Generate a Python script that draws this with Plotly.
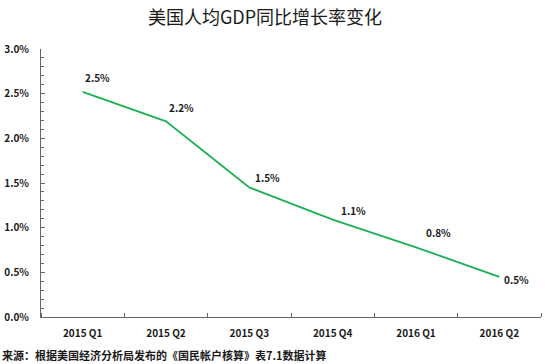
import plotly.graph_objects as go

quarters = ["2015 Q1", "2015 Q2", "2015 Q3", "2015 Q4", "2016 Q1", "2016 Q2"]
growth = [2.52, 2.19, 1.45, 1.09, 0.78, 0.45]
labels = ["2.5%", "2.2%", "1.5%", "1.1%", "0.8%", "0.5%"]
label_dx = [15, 15, 18, 21, 22, 17]
label_dy = [14, 14, 10, 9, 15, -3]

tick_vals = [0, 0.5, 1.0, 1.5, 2.0, 2.5, 3.0]
tick_text = ["0.0%", "0.5%", "1.0%", "1.5%", "2.0%", "2.5%", "3.0%"]

font_fam = "Noto Sans CJK SC, Noto Sans, sans-serif"

fig = go.Figure()
fig.add_trace(go.Scatter(
    x=list(range(len(quarters))), y=growth, mode="lines",
    line=dict(color="#1db052", width=1.8), hoverinfo="skip", showlegend=False,
))

for i, (v, t) in enumerate(zip(growth, labels)):
    fig.add_annotation(x=i, y=v, text="<b>" + t + "</b>", showarrow=False,
                       xshift=label_dx[i], yshift=label_dy[i],
                       font=dict(size=10, color="#1a1a1a", family=font_fam))

fig.add_annotation(xref="paper", yref="paper", x=-41/500, y=-38/267.3,
                   xanchor="left", yanchor="middle", showarrow=False,
                   text="<b>来源：根据美国经济分析局发布的《国民帐户核算》表7.1数据计算</b>",
                   font=dict(size=11, color="#1a1a1a", family=font_fam))

fig.update_layout(
    width=550, height=364,
    margin=dict(l=41, r=9, t=49, b=47),
    paper_bgcolor="white", plot_bgcolor="white",
    title=dict(text="美国人均GDP同比增长率变化", x=265/550, xanchor="center",
               y=1-18/364, yanchor="middle",
               font=dict(size=18, color="#1a1a1a", family=font_fam)),
    xaxis=dict(
        range=[-0.5, 5.5], tickmode="array", tickvals=list(range(len(quarters))),
        ticktext=["<b>" + q + "</b>" for q in quarters],
        showgrid=False, zeroline=False, showline=True, linecolor="#666666", linewidth=1,
        ticks="", tickfont=dict(size=10, color="#1a1a1a", family=font_fam),
        ticklabelstandoff=7, automargin=False,
        minor=dict(tickvals=[i - 0.5 for i in range(7)], ticks="inside", ticklen=4,
                   tickcolor="#666666", showgrid=False),
        fixedrange=True,
    ),
    yaxis=dict(
        range=[0, 3.0], tickmode="array", tickvals=tick_vals,
        ticktext=["<b>" + t + "</b>" for t in tick_text],
        showgrid=False, zeroline=False, showline=True, linecolor="#666666", linewidth=1,
        ticks="inside", ticklen=4, tickcolor="#666666",
        tickfont=dict(size=10, color="#1a1a1a", family=font_fam),
        ticklabelstandoff=9, automargin=False,
        minor=dict(dtick=0.1, ticks="inside", ticklen=3, tickcolor="#666666"),
        fixedrange=True,
    ),
)

fig.write_html("out.html", config={"displayModeBar": False},
               post_script="document.body.style.margin='0px';")
